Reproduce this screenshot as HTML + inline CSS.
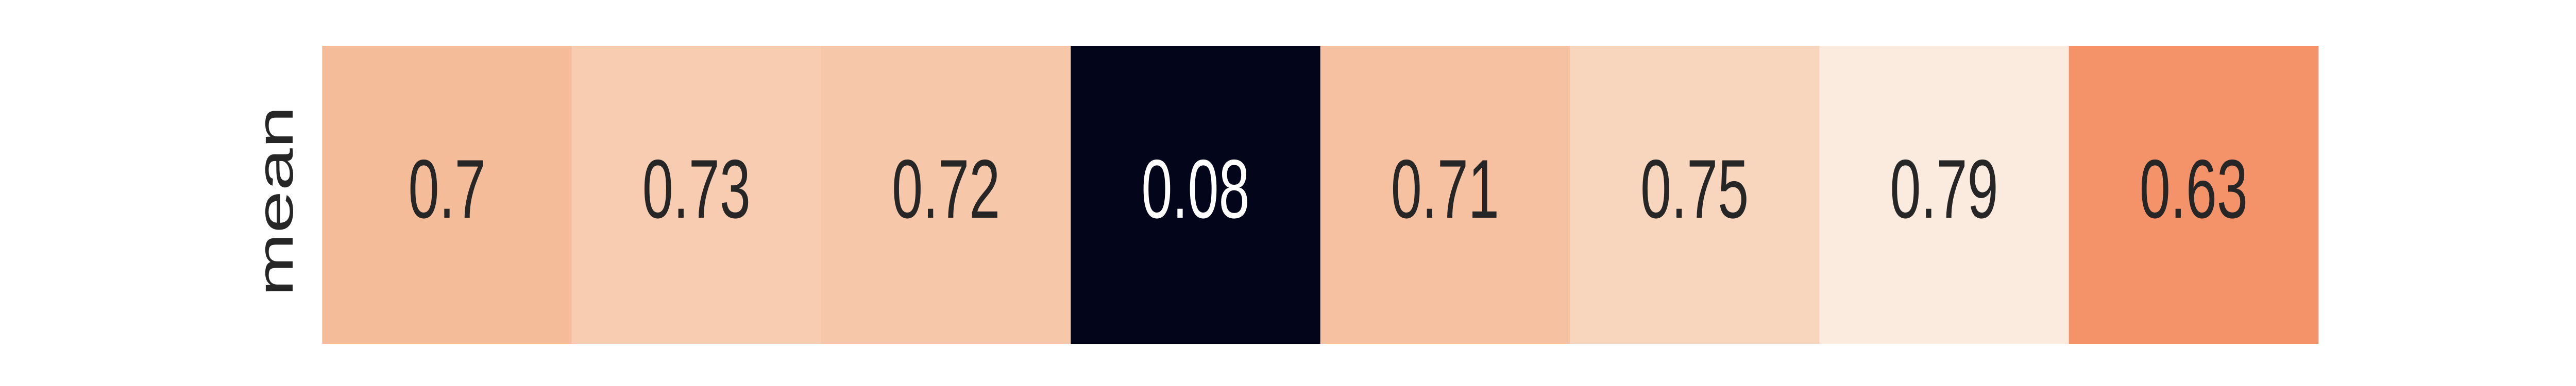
<!DOCTYPE html>
<html><head><meta charset="utf-8"><style>
html,body{margin:0;padding:0;background:#fff;width:100%;height:100%;overflow:hidden;}
svg{display:block;width:100vw;height:100vh;}
</style></head><body>
<svg id="chart" viewBox="0 0 7500 750" preserveAspectRatio="none" xmlns="http://www.w3.org/2000/svg">
<g id="cells"></g>
<g id="labels"></g>
<text x="0" y="0" transform="translate(852,391) rotate(-90)" text-anchor="middle" font-family="Liberation Sans, Arial, sans-serif" font-size="148" fill="#262626">mean</text>
</svg>
<script>
const categories = ["c0","c1","c2","c3","c4","c5","c6","c7"];
const values = [0.7, 0.73, 0.72, 0.08, 0.71, 0.75, 0.79, 0.63];
const labels = ["0.7","0.73","0.72","0.08","0.71","0.75","0.79","0.63"];

const X0 = 938, X1 = 6750, Y0 = 89, Y1 = 668;
const vmin = Math.min(...values), vmax = Math.max(...values);
function xScale(i){ return X0 + (X1 - X0) * i / categories.length; }
const stops = [[0,[3,5,26]],[0.1,[34,19,49]],[0.2,[69,28,71]],[0.3,[106,31,86]],[0.4,[146,28,91]],[0.5,[185,22,87]],[0.6,[217,40,71]],[0.7,[237,80,62]],[0.775,[244,146,106]],[0.873,[245,188,153]],[0.915,[247,204,176]],[0.944,[248,213,189]],[1,[251,234,222]]];
function color(v){
  const t = (v - vmin) / (vmax - vmin);
  for (let k = 1; k < stops.length; k++) {
    if (t <= stops[k][0]) {
      const a = stops[k-1], b = stops[k], f = (t - a[0]) / (b[0] - a[0]);
      const c = a[1].map((x, j) => Math.round(x + (b[1][j] - x) * f));
      return `rgb(${c[0]},${c[1]},${c[2]})`;
    }
  }
  const c = stops[stops.length-1][1]; return `rgb(${c[0]},${c[1]},${c[2]})`;
}
const NS = "http://www.w3.org/2000/svg";
const gc = document.getElementById("cells"), gl = document.getElementById("labels");
const w = (X1 - X0) / categories.length;
values.forEach((v, i) => {
  const r = document.createElementNS(NS, "rect");
  r.setAttribute("x", xScale(i)); r.setAttribute("y", Y0);
  r.setAttribute("width", w + 0.5); r.setAttribute("height", Y1 - Y0);
  r.setAttribute("fill", color(v));
  
  
  gc.appendChild(r);
  const t = (v - vmin) / (vmax - vmin);
  const tx = document.createElementNS(NS, "text");
  tx.setAttribute("x", xScale(i) + w / 2); tx.setAttribute("y", 423);
  tx.setAttribute("text-anchor", "middle");
  tx.setAttribute("font-family", "Liberation Sans, Arial, sans-serif");
  tx.setAttribute("font-size", "162");
  tx.setAttribute("fill", t < 0.5 ? "#ffffff" : "#262626");
  tx.textContent = labels[i];
  
  
  gl.appendChild(tx);
});
</script>
</body></html>
